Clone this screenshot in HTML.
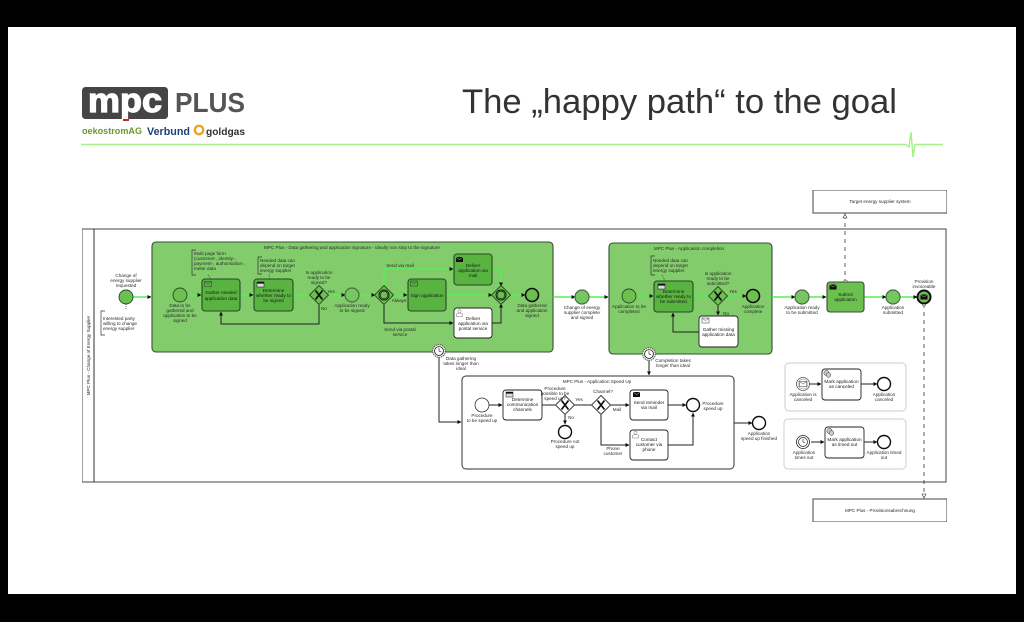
<!DOCTYPE html>
<html><head><meta charset="utf-8"><title>The happy path to the goal</title>
<style>
html,body{margin:0;padding:0;background:#000;width:1024px;height:622px;overflow:hidden}
svg{display:block}
text{font-family:"Liberation Sans",sans-serif;fill:#2a2a2a}
.l text,.l{font-size:4.6px;text-anchor:middle}
.s{font-size:4.6px;text-anchor:start}
.t{font-size:4.7px;text-anchor:middle;fill:#1a1a1a}
.k{fill:none;stroke:#222;stroke-width:1}
.g{fill:none;stroke:#55ee55;stroke-width:1.5}
.task{fill:#58b33f;stroke:#274a22;stroke-width:1.1}
.lt{fill:#82cc6c;stroke:#344f30;stroke-width:1.1}
.w{fill:#fff;stroke:#222;stroke-width:.9}
.ev{fill:#6cc04f;stroke:#274a22;stroke-width:.9}
.ev2{fill:#78c663;stroke:#476d40;stroke-width:1.2}
.end{fill:#6cc04f;stroke:#111;stroke-width:1.6}
.we{fill:#fff;stroke:#111;stroke-width:1.4}
.gw{fill:#6cc04f;stroke:#274a22;stroke-width:.9}
.x{stroke:#111;stroke-width:1.7;fill:none}
</style></head><body>
<svg width="1024" height="622" viewBox="0 0 1024 622" xmlns="http://www.w3.org/2000/svg">
<defs>
<marker id="a" markerWidth="4" markerHeight="4" refX="3.6" refY="2" orient="auto" markerUnits="userSpaceOnUse"><path d="M0,0L4,2L0,4Z" fill="#111"/></marker>
<marker id="o" markerWidth="5" markerHeight="5" refX="4.5" refY="2.5" orient="auto" markerUnits="userSpaceOnUse"><path d="M.5,.5L4.5,2.5L.5,4.5Z" fill="#fff" stroke="#333" stroke-width=".6"/></marker>
<filter id="b" x="0" y="0" width="100%" height="100%"><feGaussianBlur stdDeviation=".35"/></filter>
<g id="env"><rect x="0" y="0" width="7" height="5" fill="none" stroke="#333" stroke-width=".5"/><path d="M0,0L3.5,2.6L7,0" fill="none" stroke="#333" stroke-width=".5"/></g>
<g id="envb"><rect x="0" y="0" width="7" height="5" fill="#111"/><path d="M0,0L3.5,2.6L7,0" fill="none" stroke="#fff" stroke-width=".4"/></g>
<g id="tbl"><rect x="0" y="0" width="7" height="5" fill="#ddd" stroke="#111" stroke-width=".5"/><rect x="0" y="0" width="7" height="1.6" fill="#111"/></g>
<g id="man"><circle cx="3.5" cy="1.8" r="1.6" fill="#fff" stroke="#555" stroke-width=".4"/><path d="M.3,7V4.5Q3.5,2.5 6.7,4.5V7Z" fill="#fff" stroke="#555" stroke-width=".4"/></g>
<g id="gear"><circle cx="3" cy="3" r="2.6" fill="#ccc" stroke="#333" stroke-width=".5"/><circle cx="5" cy="5" r="2.3" fill="#ccc" stroke="#333" stroke-width=".5"/></g>
<g id="clock"><circle r="6.4" fill="#eee" stroke="#555" stroke-width="1" stroke-dasharray="1.4 .8"/><circle r="4.4" fill="#fff" stroke="#111" stroke-width=".8"/><path d="M0,-3V0L2.2,1" fill="none" stroke="#111" stroke-width=".6"/></g>
</defs>
<rect width="1024" height="622" fill="#000"/>
<rect x="8" y="27" width="1008" height="567" fill="#fff"/>

<!-- logo -->
<g filter="url(#b)">
<rect x="82" y="87" width="86" height="32" rx="3.5" fill="#444"/>
<text x="125" y="112" style="font-size:34px;font-weight:bold;fill:#fff;stroke:#fff;stroke-width:1.2;text-anchor:middle" textLength="74" lengthAdjust="spacingAndGlyphs">mpc</text>
<rect x="123" y="119" width="6" height="2" fill="#c22"/>
<text x="175" y="112" style="font-size:28px;font-weight:bold;fill:#555" textLength="70" lengthAdjust="spacingAndGlyphs">PLUS</text>
<text x="82" y="134" style="font-size:9px;font-weight:bold;fill:#6a9a2a" textLength="60" lengthAdjust="spacingAndGlyphs">oekostromAG</text>
<text x="147" y="135" style="font-size:11px;font-weight:bold;fill:#1c3f78" textLength="43" lengthAdjust="spacingAndGlyphs">Verbund</text>
<circle cx="199" cy="130" r="4.2" fill="none" stroke="#e5a823" stroke-width="2.4"/>
<text x="206" y="135" style="font-size:10.5px;font-weight:bold;fill:#333" textLength="39" lengthAdjust="spacingAndGlyphs">goldgas</text>
</g>

<!-- title -->
<text x="462" y="113" style="font-size:34px;fill:#333" textLength="435" lengthAdjust="spacingAndGlyphs">The „happy path“ to the goal</text>
<path d="M81,144.500H906L909,147L911,132L913,157L915,144.500H943" fill="none" stroke="#a4f08a" stroke-width="1.4"/>

<g filter="url(#b)">
<!-- pool -->
<rect x="82" y="229" width="864" height="253" fill="#fff" stroke="#555" stroke-width="1.1"/>
<path d="M94,229V482" stroke="#333" stroke-width="1"/>
<text transform="translate(90,355.500) rotate(-90)" class="l">MPC Plus - Change of Energy Supplier</text>
<rect x="813" y="190" width="134" height="23" fill="#fff" stroke="#444" stroke-width="1"/>
<text x="880" y="203" class="l">Target energy supplier system</text>
<rect x="813" y="499" width="134" height="23" fill="#fff" stroke="#444" stroke-width="1"/>
<text x="880" y="512" class="l">MPC Plus - Provisionsabrechnung</text>

<!-- subprocesses -->
<rect x="152" y="242" width="401" height="110" rx="4" class="lt"/>
<rect x="609" y="243" width="163" height="111" rx="4" class="lt"/>
<rect x="462" y="376" width="272" height="93" rx="4" fill="#fff" stroke="#333" stroke-width="1"/>
<rect x="785" y="363" width="121" height="48" rx="4" fill="#fff" stroke="#ccc" stroke-width="1"/>
<rect x="784" y="419" width="122" height="50" rx="4" fill="#fff" stroke="#ccc" stroke-width="1"/>
<text x="352" y="249" class="l">MPC Plus - Data gathering and application signature - ideally non stop to the signature</text>
<text x="689" y="250" class="l">MPC Plus - Application completion</text>
<text x="597" y="383" class="l">MPC Plus - Application Speed Up</text>

<!-- green flows -->
<path class="g" d="M133,297H151" marker-end="url(#a)"/>
<path class="g" d="M187,295H201" marker-end="url(#a)"/>
<path class="g" d="M240,295H253" marker-end="url(#a)"/>
<path class="g" d="M293,295H310" />
<path class="g" d="M328,295H345" marker-end="url(#a)"/>
<path class="g" d="M359,295H375" marker-end="url(#a)"/>
<path class="g" d="M393,295H407" marker-end="url(#a)"/>
<path class="g" d="M446,295H492" marker-end="url(#a)"/>
<path class="g" d="M384,286V269H453" marker-end="url(#a)"/>
<path class="g" d="M492,269H501V286" marker-end="url(#a)"/>
<path class="g" d="M510,295H525" marker-end="url(#a)"/>
<path class="g" d="M553,297H575" marker-end="url(#a)"/>
<path class="g" d="M589,297H608" marker-end="url(#a)"/>
<path class="g" d="M636,296H653" marker-end="url(#a)"/>
<path class="g" d="M693,296H709"/>
<path class="g" d="M727,296H746" marker-end="url(#a)"/>
<path class="g" d="M772,297H795" marker-end="url(#a)"/>
<path class="g" d="M809,297H826" marker-end="url(#a)"/>
<path class="g" d="M864,297H886" marker-end="url(#a)"/>
<path class="g" d="M900,297H917" marker-end="url(#a)"/>

<!-- black flows -->
<path class="k" d="M319,305V324H221V312" marker-end="url(#a)"/>
<path class="k" d="M384,304V323H453" marker-end="url(#a)"/>
<path class="k" d="M492,323H501V304" marker-end="url(#a)"/>
<path class="k" d="M718,305V315" marker-end="url(#a)"/>
<path class="k" d="M699,332H673V313" marker-end="url(#a)"/>
<path class="k" d="M439,357V422H461" marker-end="url(#a)"/>
<path class="k" d="M649,360V375" marker-end="url(#a)"/>
<path class="k" d="M489,405H502" marker-end="url(#a)"/>
<path class="k" d="M542,405H556"/>
<path class="k" d="M574,405H592" />
<path class="k" d="M565,414V424" marker-end="url(#a)"/>
<path class="k" d="M610,405H629" marker-end="url(#a)"/>
<path class="k" d="M601,414V445H629" marker-end="url(#a)"/>
<path class="k" d="M668,405H686" marker-end="url(#a)"/>
<path class="k" d="M668,445H693V413" marker-end="url(#a)"/>
<path class="k" d="M734,423H752" marker-end="url(#a)"/>
<path class="k" d="M810,384H821" marker-end="url(#a)"/>
<path class="k" d="M861,384H877" marker-end="url(#a)"/>
<path class="k" d="M811,442H824" marker-end="url(#a)"/>
<path class="k" d="M864,442H877" marker-end="url(#a)"/>

<!-- message flows -->
<path d="M845,283V214" fill="none" stroke="#333" stroke-width=".8" stroke-dasharray="4 4" marker-end="url(#o)"/>
<path d="M924,304V498" fill="none" stroke="#333" stroke-width=".8" stroke-dasharray="4 4" marker-end="url(#o)"/>
<circle cx="845.500" cy="282" r="2" fill="#fff" stroke="#333" stroke-width=".5"/>
<circle cx="924" cy="304" r="2" fill="#fff" stroke="#333" stroke-width=".5"/>

<!-- annotations -->
<g fill="none" stroke="#333" stroke-width=".7">
<path d="M105,311H101V335H105"/>
<path d="M196,250H192V275H196"/>
<path d="M262,257H258V274H262"/>
<path d="M655,256H651V275H655"/>
<path d="M208,275L211,279M269,274L270,279M662,275L665,281M126,304V309" stroke-dasharray="1 1"/>
</g>
<text x="103" y="320" class="s">Interested party</text><text x="103" y="325" class="s">willing to change</text><text x="103" y="330" class="s">energy supplier</text>
<text x="194" y="255" class="s">Multi page form</text><text x="194" y="260" class="s">(customer-, identity-,</text><text x="194" y="265" class="s">payment-, authorisation-,</text><text x="194" y="270" class="s">meter data</text>
<text x="260" y="262" class="s">Needed data can</text><text x="260" y="267" class="s">depend on target</text><text x="260" y="272" class="s">energy supplier</text>
<text x="653" y="262" class="s">Needed data can</text><text x="653" y="267" class="s">depend on target</text><text x="653" y="272" class="s">energy supplier</text>

<!-- events -->
<circle cx="126" cy="297" r="7" class="ev"/>
<circle cx="180" cy="295" r="7" class="ev"/>
<circle cx="352" cy="295" r="7" class="ev2"/>
<circle cx="532" cy="295" r="6.500" class="end"/>
<circle cx="582" cy="297" r="7" class="ev2"/>
<circle cx="629" cy="296" r="7" class="ev"/>
<circle cx="753" cy="296" r="6.500" class="end"/>
<circle cx="802" cy="297" r="7" class="ev2"/>
<circle cx="893" cy="297" r="7" class="ev2"/>
<circle cx="924" cy="297" r="6.500" fill="#6cc04f" stroke="#111" stroke-width="2"/>
<use href="#envb" x="920.500" y="294.500"/>
<circle cx="482" cy="405" r="7" fill="#fff" stroke="#333" stroke-width=".8"/>
<circle cx="565" cy="432" r="6.500" class="we"/>
<circle cx="693" cy="405" r="6.500" class="we"/>
<circle cx="759" cy="423" r="6.500" class="we"/>
<circle cx="884" cy="384" r="6.500" class="we"/>
<circle cx="884" cy="442" r="6.500" class="we"/>
<circle cx="803" cy="384" r="6.500" fill="#fff" stroke="#555" stroke-width=".8"/>
<circle cx="803" cy="384" r="5" fill="#fff" stroke="#777" stroke-width=".5"/>
<use href="#env" x="799.500" y="381.500"/>
<circle cx="803" cy="442" r="6.500" fill="#fff" stroke="#222" stroke-width=".8"/>
<circle cx="803" cy="442" r="4.500" fill="#fff" stroke="#222" stroke-width=".7"/>
<path d="M803,439V442L805,443" fill="none" stroke="#222" stroke-width=".6"/>
<use href="#clock" x="439" y="351"/>
<use href="#clock" x="649" y="354"/>

<!-- gateways -->
<path d="M319,285.500L328.500,295L319,304.500L309.500,295Z" class="gw"/>
<path d="M315.500,290.500L322.500,299.500M322.500,290.500L315.500,299.500" class="x"/>
<path d="M384,285.500L393.500,295L384,304.500L374.500,295Z" class="gw"/>
<circle cx="384" cy="295" r="5" fill="none" stroke="#111" stroke-width=".9"/>
<circle cx="384" cy="295" r="3.800" fill="none" stroke="#111" stroke-width=".6"/>
<path d="M501,285.500L510.500,295L501,304.500L491.500,295Z" class="gw"/>
<circle cx="501" cy="295" r="5" fill="none" stroke="#111" stroke-width=".9"/>
<circle cx="501" cy="295" r="3.800" fill="none" stroke="#111" stroke-width=".6"/>
<path d="M718,286.500L727.500,296L718,305.500L708.500,296Z" class="gw"/>
<path d="M714.500,291.500L721.500,300.500M721.500,291.500L714.500,300.500" class="x"/>
<path d="M565,395.500L574.500,405L565,414.500L555.500,405Z" fill="#fff" stroke="#333" stroke-width=".9"/>
<path d="M561.500,400.500L568.500,409.500M568.500,400.500L561.500,409.500" class="x"/>
<path d="M601,395.500L610.500,405L601,414.500L591.500,405Z" fill="#fff" stroke="#333" stroke-width=".9"/>
<path d="M597.500,400.500L604.500,409.500M604.500,400.500L597.500,409.500" class="x"/>

<!-- tasks -->
<rect x="202" y="279" width="38" height="32" rx="3" class="task"/>
<rect x="254" y="279" width="39" height="32" rx="3" class="task"/>
<rect x="408" y="279" width="38" height="32" rx="3" class="task"/>
<rect x="454" y="254" width="38" height="31" rx="3" class="task"/>
<rect x="454" y="308" width="38" height="30" rx="3" class="w"/>
<rect x="654" y="281" width="39" height="31" rx="3" class="task"/>
<rect x="699" y="316" width="39" height="31" rx="3" class="w"/>
<rect x="827" y="282" width="37" height="30" rx="3" class="lt" style="fill:#6cc04f"/>
<rect x="503" y="390" width="39" height="30" rx="3" class="w"/>
<rect x="630" y="390" width="38" height="30" rx="3" class="w"/>
<rect x="630" y="430" width="38" height="30" rx="3" class="w"/>
<rect x="822" y="369" width="39" height="31" rx="3" class="w"/>
<rect x="825" y="427" width="39" height="31" rx="3" class="w"/>
<use href="#env" x="204.500" y="281.500"/>
<use href="#tbl" x="257" y="282"/>
<use href="#env" x="410.500" y="281"/>
<use href="#envb" x="456" y="257"/>
<use href="#man" x="456" y="309.500"/>
<use href="#tbl" x="658" y="284"/>
<use href="#env" x="702" y="318"/>
<use href="#envb" x="829.500" y="284.500"/>
<use href="#tbl" x="506" y="392"/>
<use href="#envb" x="633" y="392"/>
<use href="#man" x="632" y="431"/>
<use href="#gear" x="823.500" y="370"/>
<use href="#gear" x="826.500" y="428"/>

<text x="221" y="294" class="t">Gather needed</text><text x="221" y="300" class="t">application data</text>
<text x="273.500" y="292" class="t">Determine</text><text x="273.500" y="297" class="t">whether ready to</text><text x="273.500" y="302" class="t">be signed</text>
<text x="427" y="297" class="t">Sign application</text>
<text x="473" y="267" class="t">Deliver</text><text x="473" y="272" class="t">application via</text><text x="473" y="277" class="t">mail</text>
<text x="473" y="320" class="t">Deliver</text><text x="473" y="325" class="t">application via</text><text x="473" y="330" class="t">postal service</text>
<text x="673.500" y="293" class="t">Determine</text><text x="673.500" y="298" class="t">whether ready to</text><text x="673.500" y="303" class="t">be submitted</text>
<text x="718.500" y="331" class="t">Gather missing</text><text x="718.500" y="336" class="t">application data</text>
<text x="845.500" y="296" class="t">Submit</text><text x="845.500" y="301" class="t">application</text>
<text x="522.500" y="401" class="t">Determine</text><text x="522.500" y="406" class="t">communication</text><text x="522.500" y="411" class="t">channels</text>
<text x="649" y="404" class="t">Send reminder</text><text x="649" y="409" class="t">via mail</text>
<text x="649" y="441" class="t">Contact</text><text x="649" y="446" class="t">customer via</text><text x="649" y="451" class="t">phone</text>
<text x="841.500" y="383" class="t">Mark application</text><text x="841.500" y="388" class="t">as canceled</text>
<text x="844.500" y="441" class="t">Mark application</text><text x="844.500" y="446" class="t">as timed out</text>

<!-- labels -->
<g class="l">
<text x="126" y="277">Change of</text><text x="126" y="282">energy supplier</text><text x="126" y="287">requested</text>
<text x="180" y="307">Data to be</text><text x="180" y="312">gathered and</text><text x="180" y="317">application to be</text><text x="180" y="322">signed</text>
<text x="319" y="274">Is application</text><text x="319" y="279">ready to be</text><text x="319" y="284">signed?</text>
<text x="331" y="293">Yes</text><text x="324" y="310">No</text>
<text x="352" y="307">Application ready</text><text x="352" y="312">to be signed</text>
<text x="400" y="267">Send via mail</text>
<text x="399" y="302">Always</text>
<text x="400" y="331">Send via postal</text><text x="400" y="336">service</text>
<text x="532" y="307">Data gathered</text><text x="532" y="312">and application</text><text x="532" y="317">signed</text>
<text x="582" y="309">Change of energy</text><text x="582" y="314">supplier complete</text><text x="582" y="319">and signed</text>
<text x="461" y="360">Data gathering</text><text x="461" y="365">takes longer than</text><text x="461" y="370">ideal</text>
<text x="629" y="308">Application to be</text><text x="629" y="313">completed</text>
<text x="718" y="275">Is application</text><text x="718" y="280">ready to be</text><text x="718" y="285">submitted?</text>
<text x="733" y="293">Yes</text><text x="726" y="315">No</text>
<text x="753" y="308">Application</text><text x="753" y="313">complete</text>
<text x="802" y="309">Application ready</text><text x="802" y="314">to be submitted</text>
<text x="893" y="309">Application</text><text x="893" y="314">submitted</text>
<text x="924" y="283">Provision</text><text x="924" y="288">invoiceable</text>
<text x="673" y="362">Completion takes</text><text x="673" y="367">longer than ideal</text>
<text x="482" y="417">Procedure</text><text x="482" y="422">to be speed up</text>
<text x="555" y="390">Procedure</text><text x="555" y="395">possible to be</text><text x="555" y="400">speed up?</text>
<text x="579" y="401">Yes</text><text x="571" y="419">No</text>
<text x="603" y="393">Channel?</text>
<text x="617" y="411">Mail</text>
<text x="613" y="450">Phone</text><text x="613" y="455">customer</text>
<text x="565" y="443">Procedure not</text><text x="565" y="448">speed up</text>
<text x="713" y="405">Procedure</text><text x="713" y="410">speed up</text>
<text x="759" y="435">Application</text><text x="759" y="440">speed up finished</text>
<text x="803" y="396">Application is</text><text x="803" y="401">canceled</text>
<text x="884" y="396">Application</text><text x="884" y="401">canceled</text>
<text x="804" y="454">Application</text><text x="804" y="459">times out</text>
<text x="884" y="454">Application timed</text><text x="884" y="459">out</text>
</g>
</g>
</svg>
</body></html>
